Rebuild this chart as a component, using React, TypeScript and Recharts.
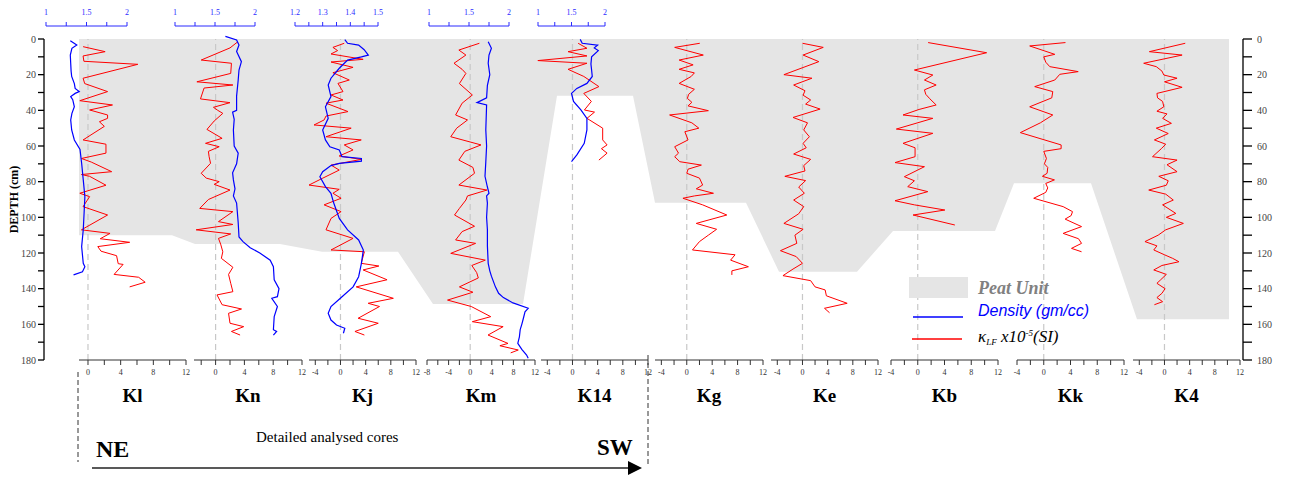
import React from "react";
import { ComposedChart, LineChart, Line, Area, XAxis, YAxis, ReferenceLine } from "recharts";

type Pair = [number, number]; // [depth cm, value]

// magnetic susceptibility kLF x10^-5 (SI) by depth
const KL_KAPPA: Pair[] = [[4.3,-0.6],[7.1,2.1],[9.5,-0.6],[12.5,-0.5],[14.2,6.1],[22,-0.6],[25,-0.4],[29.5,2.4],[34.6,-1.0],[37,3.0],[39.8,0.2],[42.6,2.4],[44.5,2.4],[46.4,1.4],[49,2.0],[56.6,-0.6],[59,2.2],[64,2.2],[67,-0.8],[69,0.4],[74.4,2.9],[76,-0.8],[77,0.2],[82,2.2],[86.5,-1.0],[88.4,0.2],[94,-0.6],[98.7,2.4],[107,-0.8],[109,2.7],[112,1.5],[114,5.1],[116.4,1.2],[119,1.6],[121.5,3.5],[126,3.7],[126.4,4.3],[132,3.2],[133.6,6.2],[136.4,7.0],[139,5.1]];
const KN_KAPPA: Pair[] = [[1.5,3.1],[5,2.0],[11.8,-2.0],[13.6,2.2],[19.3,2.1],[24,-2.6],[25.8,2.4],[27.5,-1.6],[33.6,-2.1],[35.7,2.0],[38.3,-0.3],[40,0.3],[41.7,1.0],[46,-0.2],[50.7,-1.2],[55.7,0.9],[58.5,-1.4],[60.4,0.5],[63,-1.0],[66,-0.9],[69.7,-0.7],[75.3,-2.0],[78,-1.3],[80,0.5],[81.5,-0.2],[84.7,2.0],[90,-1.0],[95,-2.2],[96.8,2.4],[102.4,0.4],[104,2.4],[107,-2.7],[109.3,2.1],[111.8,0.4],[115,0.7],[119.3,1.0],[123,0.8],[128,2.4],[132,1.8],[137,2.1],[141.7,2.4],[143.5,0.2],[149,0.9],[151.4,3.6],[153.8,1.8],[159.4,2.0],[161.3,3.9],[164,2.2],[166,3.4]];
const KJ_KAPPA: Pair[] = [[2.4,0.6],[4.7,-1.2],[6.5,-0.45],[8.4,-1.5],[11.4,3.6],[12.9,-1.5],[15.9,2.0],[18.9,-1.2],[23,1.4],[24.9,-0.4],[29.5,0.4],[31.4,-1.5],[34.2,0.4],[36,-2.3],[40.7,1.2],[43.2,-2.3],[45.4,-2.6],[48.2,-4.2],[50,1.7],[54.8,-2.3],[56.6,3.3],[59.4,0.6],[62.2,2.0],[65.6,-0.2],[67.5,3.3],[70.7,-1.5],[73.5,-0.2],[78,-2.8],[81.9,-5.0],[84.3,-0.2],[86.5,-1.2],[89.3,0.1],[93,-2.6],[96.8,0.1],[100.6,-1.5],[107,-2.3],[111.8,2.0],[118.3,-1.5],[119.3,3.8],[125.8,3.3],[127.3,6.1],[129.5,3.6],[135,7.4],[139,2.5],[145.4,8.4],[148.2,4.4],[150,6.2],[156.6,2.8],[159.4,6.0],[164,2.3],[166,3.8]];
const KM_KAPPA: Pair[] = [[2.4,1.7],[6.2,-2.1],[9,-0.8],[13.6,-3.0],[17,-1.5],[19.3,-0.8],[25,-2.0],[31.4,0.4],[36,-1.5],[42.6,-2.7],[45.4,-0.5],[50,-2.5],[54.8,-3.6],[59.4,2.0],[63,-1.0],[67.9,-2.1],[72,0.5],[75.3,0.8],[81.9,-2.1],[84.7,3.1],[88,-0.5],[90.3,-0.8],[95,-2.0],[98.7,-2.9],[105,0.8],[108,-1.5],[112.7,-2.7],[114.6,1.0],[120.2,-3.6],[124,2.8],[127,0.3],[131,1.2],[134,1.5],[139,-2.0],[142,0.5],[146.4,-4.2],[150,0.2],[155.7,3.8],[158.5,0.4],[161.3,6.1],[166,3.3],[170.7,7.0],[172,5.5],[174.4,8.9],[176,7.5]];
const K14_KAPPA: Pair[] = [[2.4,0.9],[5.2,2.3],[7.1,-0.7],[9.5,2.3],[12.1,-5.5],[13.6,2.3],[17,-0.7],[21,1.8],[26.7,4.2],[30.5,1.8],[35,3.0],[39.8,1.9],[41,3.5],[44.5,2.3],[50,4.8],[56.6,4.8],[59.4,5.5],[61.5,4.6],[64,5.5],[67.9,4.2]];
const KG_KAPPA: Pair[] = [[2.4,2.05],[4.7,-1.9],[9,2.6],[11.8,-1.2],[14.5,1.0],[17,-1.2],[19,1.2],[21,0.7],[24.9,-1.2],[28.2,1.2],[31,0.3],[33.3,0.1],[35.5,0.8],[37.5,0.2],[40.2,3.4],[42.6,-2.7],[47,0.8],[50,1.9],[52,-0.3],[56.6,0.2],[60.4,-1.9],[64,-1.3],[66,-1.9],[68.8,-1.1],[70.7,2.3],[73,0.2],[75.3,0.0],[78,2.0],[81.9,2.5],[84,1.5],[86.5,4.2],[88,1.2],[89.3,-0.6],[93,2.5],[98.7,6.3],[103.4,1.5],[106.7,4.7],[110,3.4],[113.6,2.0],[118.3,0.9],[121,7.6],[124,6.9],[127.7,9.7],[130,7.1],[132.3,7.1]];
const KE_KAPPA: Pair[] = [[2.4,0.0],[4.7,3.3],[9,0.1],[12.7,2.6],[20,-2.95],[22,1.5],[25.8,-1.4],[29,0.4],[31.5,0.1],[34.2,1.3],[36.5,0.5],[39.3,2.8],[44,-1.5],[47,0.8],[51,0.2],[54.8,1.1],[58.5,0.1],[61,0.6],[64.5,-1.4],[67.5,1.3],[71,0.2],[74,0.4],[77,-2.8],[79.4,0.5],[83,-0.6],[86.5,0.3],[90.3,-1.4],[94,0.2],[98,-0.6],[103.4,-2.95],[106.7,0.1],[110,-1.2],[114.6,-0.9],[118.7,-3.5],[122,-1.0],[125.8,0.0],[129,-1.5],[132.7,-3.1],[135.5,1.3],[139,2.0],[140.7,3.6],[144,3.8],[148.2,7.1],[151,3.5],[153.5,4.3]];
const KB_KAPPA: Pair[] = [[2,1.55],[7.7,10.3],[17.4,-0.5],[20.2,2.25],[23,1.0],[25.8,2.75],[28.5,1.0],[31,1.2],[33.5,1.8],[37,2.75],[39.5,0.2],[42.6,-2.2],[44.5,2.25],[50.5,-3.2],[52.9,2.25],[58.5,-2.2],[61,-0.4],[66,-0.4],[69.3,-3.4],[71.6,1.0],[77.2,-2.0],[79.5,-0.5],[82.8,-1.5],[85.6,1.5],[90.7,-3.4],[93,-0.5],[95.9,4.05],[98.7,-0.7],[104.3,5.55]];
const KK_KAPPA: Pair[] = [[2,3.25],[3.9,-2.1],[8.6,1.65],[10,0.0],[13,0.3],[15.5,0.9],[18.3,5.15],[19.8,2.4],[23,1.65],[26.7,-1.35],[29.5,1.35],[33,1.2],[38,-2.1],[42.6,1.35],[47,-0.5],[52.5,-3.5],[59.4,2.6],[61.5,2.6],[63,0.0],[67,0.4],[70,0.1],[72,0.6],[75.3,0.5],[77,-0.2],[79,1.6],[81,0.3],[83.5,0.6],[86,0.3],[89.3,-1.5],[94,2.9],[96.8,4.3],[99,4.1],[101,3.2],[105.2,5.65],[109,2.9],[112,5.2],[114.6,5.65],[117.4,4.15],[119.3,5.65]];
const K4_KAPPA: Pair[] = [[2.4,3.3],[7.1,-2.4],[9,2.8],[13.6,-3.3],[15.5,-1.3],[18,-0.4],[20.2,-0.1],[22,2.0],[24,0.0],[27.1,2.8],[30.5,-1.2],[33,-1.1],[35,-0.3],[38,-0.1],[40.5,-1.2],[42,0.4],[44.5,-0.3],[47.3,1.1],[50,-1.3],[53,0.6],[56.6,-1.6],[59,0.2],[61.5,-0.5],[66,-1.9],[67.9,2.0],[70.5,0.4],[74.4,2.0],[77,-0.9],[79.5,0.6],[82,0.3],[84.7,-2.5],[87,0.2],[90.3,1.4],[93,-0.3],[97.8,1.8],[100,0.3],[103.4,3.0],[107,0.2],[110,-1.0],[113.6,-3.1],[116,-1.2],[118.3,-1.7],[121,0.0],[123,1.3],[124.9,2.3],[127,-0.4],[129.5,-1.7],[132,0.3],[135,-0.6],[137,-1.2],[140,0.1],[142.6,-0.4],[145,-1.2],[147.3,-0.3],[149,-1.6]];

// bulk density (gm/cc) by depth
const KL_DENS: Pair[] = [[1,1.30],[3.4,1.38],[5.2,1.32],[9,1.30],[13.6,1.305],[18,1.31],[21,1.317],[25,1.35],[27.7,1.36],[29.5,1.41],[30.5,1.36],[32.3,1.305],[34,1.33],[38,1.35],[41.7,1.32],[45.4,1.305],[51,1.317],[56.6,1.35],[62,1.42],[69.7,1.44],[79,1.46],[88.4,1.48],[97.8,1.47],[107,1.46],[116.4,1.44],[125.8,1.46],[127.7,1.48],[130.5,1.45],[132.3,1.34]];
const KN_DENS: Pair[] = [[-1.5,1.63],[0.5,1.77],[3.4,1.80],[7,1.77],[12.7,1.83],[17.4,1.80],[23,1.79],[32,1.77],[40,1.77],[41,1.72],[45,1.74],[51,1.73],[60,1.74],[64,1.79],[70,1.77],[75,1.72],[79,1.73],[84,1.75],[88,1.73],[92,1.77],[103,1.79],[111,1.80],[113.6,1.85],[117,1.94],[120,2.06],[124,2.19],[127.7,2.23],[135,2.24],[140,2.30],[144.5,2.28],[145.4,2.21],[150,2.28],[155.7,2.24],[163,2.23],[164,2.27],[166,2.23]];
const KJ_DENS: Pair[] = [[0.4,1.38],[2.4,1.39],[3.4,1.43],[6,1.45],[9,1.465],[10,1.44],[11.8,1.39],[16.4,1.36],[22,1.33],[25.8,1.32],[32.3,1.33],[38,1.31],[44.5,1.32],[51,1.30],[56.6,1.31],[60.4,1.326],[62.2,1.36],[66,1.37],[67,1.44],[68.5,1.44],[69.7,1.36],[71,1.33],[74.4,1.30],[77.2,1.29],[82.8,1.31],[86.5,1.33],[92,1.34],[100.6,1.36],[107,1.39],[112.7,1.43],[118.3,1.447],[125.8,1.44],[133.3,1.43],[139,1.41],[144.5,1.37],[150,1.33],[153.8,1.32],[157.6,1.33],[160.4,1.35],[162.2,1.38],[165,1.375]];
const KM_DENS: Pair[] = [[1.5,1.74],[5.2,1.78],[9,1.75],[13.6,1.74],[20,1.76],[26,1.73],[33,1.72],[35.7,1.60],[37,1.72],[44,1.715],[51,1.71],[60,1.72],[69,1.71],[77,1.70],[83,1.73],[86.5,1.75],[88,1.72],[92,1.73],[100,1.72],[107,1.73],[116,1.73],[125.8,1.74],[130,1.76],[133,1.78],[139,1.83],[142.6,1.87],[145,1.93],[148,2.05],[151,2.24],[153,2.20],[156.6,2.18],[160,2.16],[163,2.14],[167,2.13],[170.7,2.11],[174,2.16],[177.2,2.22],[179,2.24]];
const K14_DENS: Pair[] = [[0.2,1.63],[2.4,1.66],[3.4,1.89],[5,1.84],[6.5,1.90],[10,1.80],[14,1.79],[17.4,1.80],[21,1.81],[24.9,1.73],[27.7,1.58],[30.5,1.50],[35,1.53],[39.8,1.64],[44.5,1.73],[51,1.73],[58.5,1.69],[65,1.58],[68.8,1.50]];

// base of the peat unit along the section (position along transect, depth cm)
const PEAT_POS = [35, 128, 151, 236, 278, 354, 389, 479, 513, 589, 611, 702, 735, 813, 849, 951, 970, 1047, 1093, 1185];
const PEAT_BASE = [110, 110, 115, 115, 119.3, 119.3, 148.6, 148.6, 31.8, 31.8, 91.8, 91.8, 130.5, 130.5, 107.7, 107.7, 80.9, 80.9, 157.2, 157.2];

const DEPTH_TICKS = [0, 10, 20, 30, 40, 50, 60, 70, 80, 90, 100, 110, 120, 130, 140, 150, 160, 170, 180];
const KAPPA_TICKS = [-8, -6, -4, -2, 0, 2, 4, 6, 8, 10, 12];
const DENS_TICKS = [1, 1.25, 1.5, 1.75, 2];
const DENS_LABELS = [1, 1.5, 2];
const DENS_TICKS_KJ = [1.2, 1.25, 1.3, 1.35, 1.4, 1.45, 1.5];
const DENS_LABELS_KJ = [1.2, 1.3, 1.4, 1.5];

const SERIF = '"Liberation Serif", "Times New Roman", serif';
const SANS = '"Liberation Sans", Arial, sans-serif';
const W = 1302;
const H = 477;
const PLOT_TOP = 39;
const PLOT_BOTTOM = 360;
const AXIS_LEFT = 44;
const AXIS_RIGHT = 1243;
const PX_PER_CM = (PLOT_BOTTOM - PLOT_TOP) / 180;
const DENS_AXIS_Y = 26;
const NAME_H = 45;

type Core = {
  name: string;
  kappa: Pair[];
  kDomain: [number, number];
  kLeft: number;
  kRight: number;
  dens?: Pair[];
  dDomain?: [number, number];
  dLeft?: number;
  dRight?: number;
  dTicks?: number[];
  dLabels?: number[];
};

const CORES: Core[] = [
  { name: "Kl", kappa: KL_KAPPA, kDomain: [-1.1, 12], kLeft: 79, kRight: 186, dens: KL_DENS, dDomain: [1, 2], dLeft: 46, dRight: 127, dTicks: DENS_TICKS, dLabels: DENS_LABELS },
  { name: "Kn", kappa: KN_KAPPA, kDomain: [-3, 12], kLeft: 194, kRight: 302, dens: KN_DENS, dDomain: [1, 2], dLeft: 175, dRight: 255, dTicks: DENS_TICKS, dLabels: DENS_LABELS },
  { name: "Kj", kappa: KJ_KAPPA, kDomain: [-5, 12], kLeft: 309, kRight: 416, dens: KJ_DENS, dDomain: [1.2, 1.5], dLeft: 295, dRight: 378, dTicks: DENS_TICKS_KJ, dLabels: DENS_LABELS_KJ },
  { name: "Km", kappa: KM_KAPPA, kDomain: [-8, 12], kLeft: 427, kRight: 535, dens: KM_DENS, dDomain: [1, 2], dLeft: 429, dRight: 509, dTicks: DENS_TICKS, dLabels: DENS_LABELS },
  { name: "K14", kappa: K14_KAPPA, kDomain: [-5, 12], kLeft: 541, kRight: 648, dens: K14_DENS, dDomain: [1, 2], dLeft: 538, dRight: 605, dTicks: DENS_TICKS, dLabels: DENS_LABELS },
  { name: "Kg", kappa: KG_KAPPA, kDomain: [-5, 12], kLeft: 655, kRight: 763 },
  { name: "Ke", kappa: KE_KAPPA, kDomain: [-5, 12], kLeft: 771, kRight: 878 },
  { name: "Kb", kappa: KB_KAPPA, kDomain: [-4, 12], kLeft: 891, kRight: 998 },
  { name: "Kk", kappa: KK_KAPPA, kDomain: [-4, 12], kLeft: 1017, kRight: 1124 },
  { name: "K4", kappa: K4_KAPPA, kDomain: [-5, 12], kLeft: 1133, kRight: 1240 },
];

const rows = (p: Pair[]) => p.map(([d, v]) => ({ d, v }));
const noMargin = { top: 0, right: 0, bottom: 0, left: 0 };

function KappaPanel({ core }: { core: Core }) {
  const ticks = KAPPA_TICKS.filter((t) => t >= core.kDomain[0] && t <= core.kDomain[1]);
  return (
    <div style={{ position: "absolute", left: core.kLeft, top: PLOT_TOP }}>
      <LineChart width={core.kRight - core.kLeft} height={PLOT_BOTTOM - PLOT_TOP + NAME_H} data={rows(core.kappa)} layout="vertical" margin={noMargin}>
        <YAxis type="number" dataKey="d" domain={[0, 180]} hide />
        <XAxis
          type="number"
          dataKey="v"
          domain={core.kDomain}
          allowDataOverflow
          ticks={ticks}
          interval={0}
          tickFormatter={(v: number) => (v % 4 === 0 ? String(v) : "")}
          height={NAME_H}
          tickSize={5}
          tickMargin={4}
          stroke="#333"
          tick={{ fontSize: 8, fill: "#333", fontFamily: SERIF }}
          label={{ value: core.name, position: "insideBottom", offset: 3, fontSize: 19, fontWeight: 700, fill: "#000", fontFamily: SERIF }}
        />
        <ReferenceLine x={0} stroke="#c8c8c8" strokeWidth={1.2} strokeDasharray="6 4" />
        <Line dataKey="v" stroke="#ff0000" strokeWidth={1} dot={false} isAnimationActive={false} />
      </LineChart>
    </div>
  );
}

function DensityPanel({ core }: { core: Core }) {
  if (!core.dens) return null;
  const topH = 20;
  const labels = core.dLabels || [];
  return (
    <div style={{ position: "absolute", left: core.dLeft, top: DENS_AXIS_Y - topH }}>
      <LineChart width={(core.dRight || 0) - (core.dLeft || 0)} height={PLOT_BOTTOM - DENS_AXIS_Y + topH} data={rows(core.dens)} layout="vertical" margin={noMargin}>
        <YAxis type="number" dataKey="d" domain={[-(PLOT_TOP - DENS_AXIS_Y) / PX_PER_CM, 180]} allowDataOverflow hide />
        <XAxis
          type="number"
          orientation="top"
          dataKey="v"
          domain={core.dDomain}
          allowDataOverflow
          ticks={core.dTicks}
          interval={0}
          tickFormatter={(v: number) => (labels.some((l) => Math.abs(l - v) < 1e-6) ? String(v) : "")}
          height={topH}
          tickSize={4}
          tickMargin={7}
          stroke="#2a2aff"
          tick={{ fontSize: 8, fill: "#2a2aff", fontFamily: SERIF }}
        />
        <Line dataKey="v" stroke="#0000ff" strokeWidth={1.2} dot={false} isAnimationActive={false} />
      </LineChart>
    </div>
  );
}

export default function App() {
  const peat = PEAT_POS.map((x, i) => ({ x, base: PEAT_BASE[i] }));
  const depthFmt = (v: number) => (v % 20 === 0 ? String(v) : "");
  return (
    <div style={{ position: "absolute", left: 0, top: 0, width: W, height: H, background: "#fff", fontFamily: SERIF }}>
      <style>{`.recharts-surface{overflow:visible}.recharts-surface [clip-path]{clip-path:none !important}`}</style>
      <div style={{ position: "absolute", left: 0, top: 0 }}>
        <ComposedChart width={W} height={H} data={peat} margin={{ top: PLOT_TOP, right: 0, bottom: H - PLOT_BOTTOM, left: 0 }}>
          <XAxis type="number" dataKey="x" domain={[0, AXIS_RIGHT - AXIS_LEFT]} allowDataOverflow hide />
          <YAxis
            yAxisId="left"
            type="number"
            domain={[0, 180]}
            allowDataOverflow
            reversed
            ticks={DEPTH_TICKS}
            interval={0}
            tickFormatter={depthFmt}
            width={AXIS_LEFT}
            tickSize={6}
            tickMargin={2}
            stroke="#000"
            strokeWidth={1.3}
            tick={{ fontSize: 10, fill: "#444", fontFamily: SERIF }}
            label={{ value: "DEPTH (cm)", angle: -90, position: "insideLeft", offset: 14, fontSize: 12, fontWeight: 700, fill: "#000", fontFamily: SERIF, style: { textAnchor: "middle" } }}
          />
          <YAxis
            yAxisId="right"
            orientation="right"
            type="number"
            domain={[0, 180]}
            allowDataOverflow
            reversed
            ticks={DEPTH_TICKS}
            interval={0}
            tickFormatter={depthFmt}
            width={W - AXIS_RIGHT}
            tickSize={9}
            tickMargin={5}
            stroke="#000"
            strokeWidth={1.3}
            tick={{ fontSize: 10, fill: "#444", fontFamily: SERIF }}
          />
          <Area yAxisId="left" type="linear" dataKey="base" baseValue={0} fill="#e5e5e5" fillOpacity={1} stroke="none" isAnimationActive={false} />
        </ComposedChart>
      </div>
      {CORES.map((c) => (
        <KappaPanel key={c.name + "k"} core={c} />
      ))}
      {CORES.map((c) => (
        <DensityPanel key={c.name + "d"} core={c} />
      ))}
      <svg width={W} height={H} style={{ position: "absolute", left: 0, top: 0, pointerEvents: "none" }}>
        <line x1={78} y1={372} x2={78} y2={462} stroke="#333" strokeWidth={1} strokeDasharray="5 3" />
        <line x1={648} y1={355} x2={648} y2={467} stroke="#333" strokeWidth={1} strokeDasharray="5 3" />
        <line x1={92} y1={468} x2={630} y2={468} stroke="#222" strokeWidth={1.5} />
        <polygon points="628,461 642,468 628,475" fill="#000" />
        <text x={96} y={457} fontFamily={SERIF} fontWeight={700} fontSize={24}>NE</text>
        <text x={597} y={455} fontFamily={SERIF} fontWeight={700} fontSize={23}>SW</text>
        <text x={256} y={442} fontFamily={SERIF} fontSize={15}>Detailed analysed cores</text>
        <rect x={909} y={277} width={59} height={21} fill="#e5e5e5" />
        <text x={978} y={294} fontFamily={SERIF} fontWeight={700} fontStyle="italic" fontSize={18} fill="#808080">Peat Unit</text>
        <line x1={913} y1={317} x2={963} y2={317} stroke="#0000ff" strokeWidth={1.5} />
        <text x={978} y={316} fontFamily={SANS} fontStyle="italic" fontSize={16} fill="#0000ff">Density (gm/cc)</text>
        <line x1={912} y1={339} x2={962} y2={339} stroke="#ff0000" strokeWidth={1.5} />
        <text x={978} y={342} fontFamily={SERIF} fontStyle="italic" fontSize={17} fill="#000">
          κ<tspan dy={3} fontSize={9}>LF</tspan>
          <tspan dy={-3}> x10</tspan>
          <tspan dy={-6} fontSize={9}>-5</tspan>
          <tspan dy={6}>(SI)</tspan>
        </text>
      </svg>
    </div>
  );
}
